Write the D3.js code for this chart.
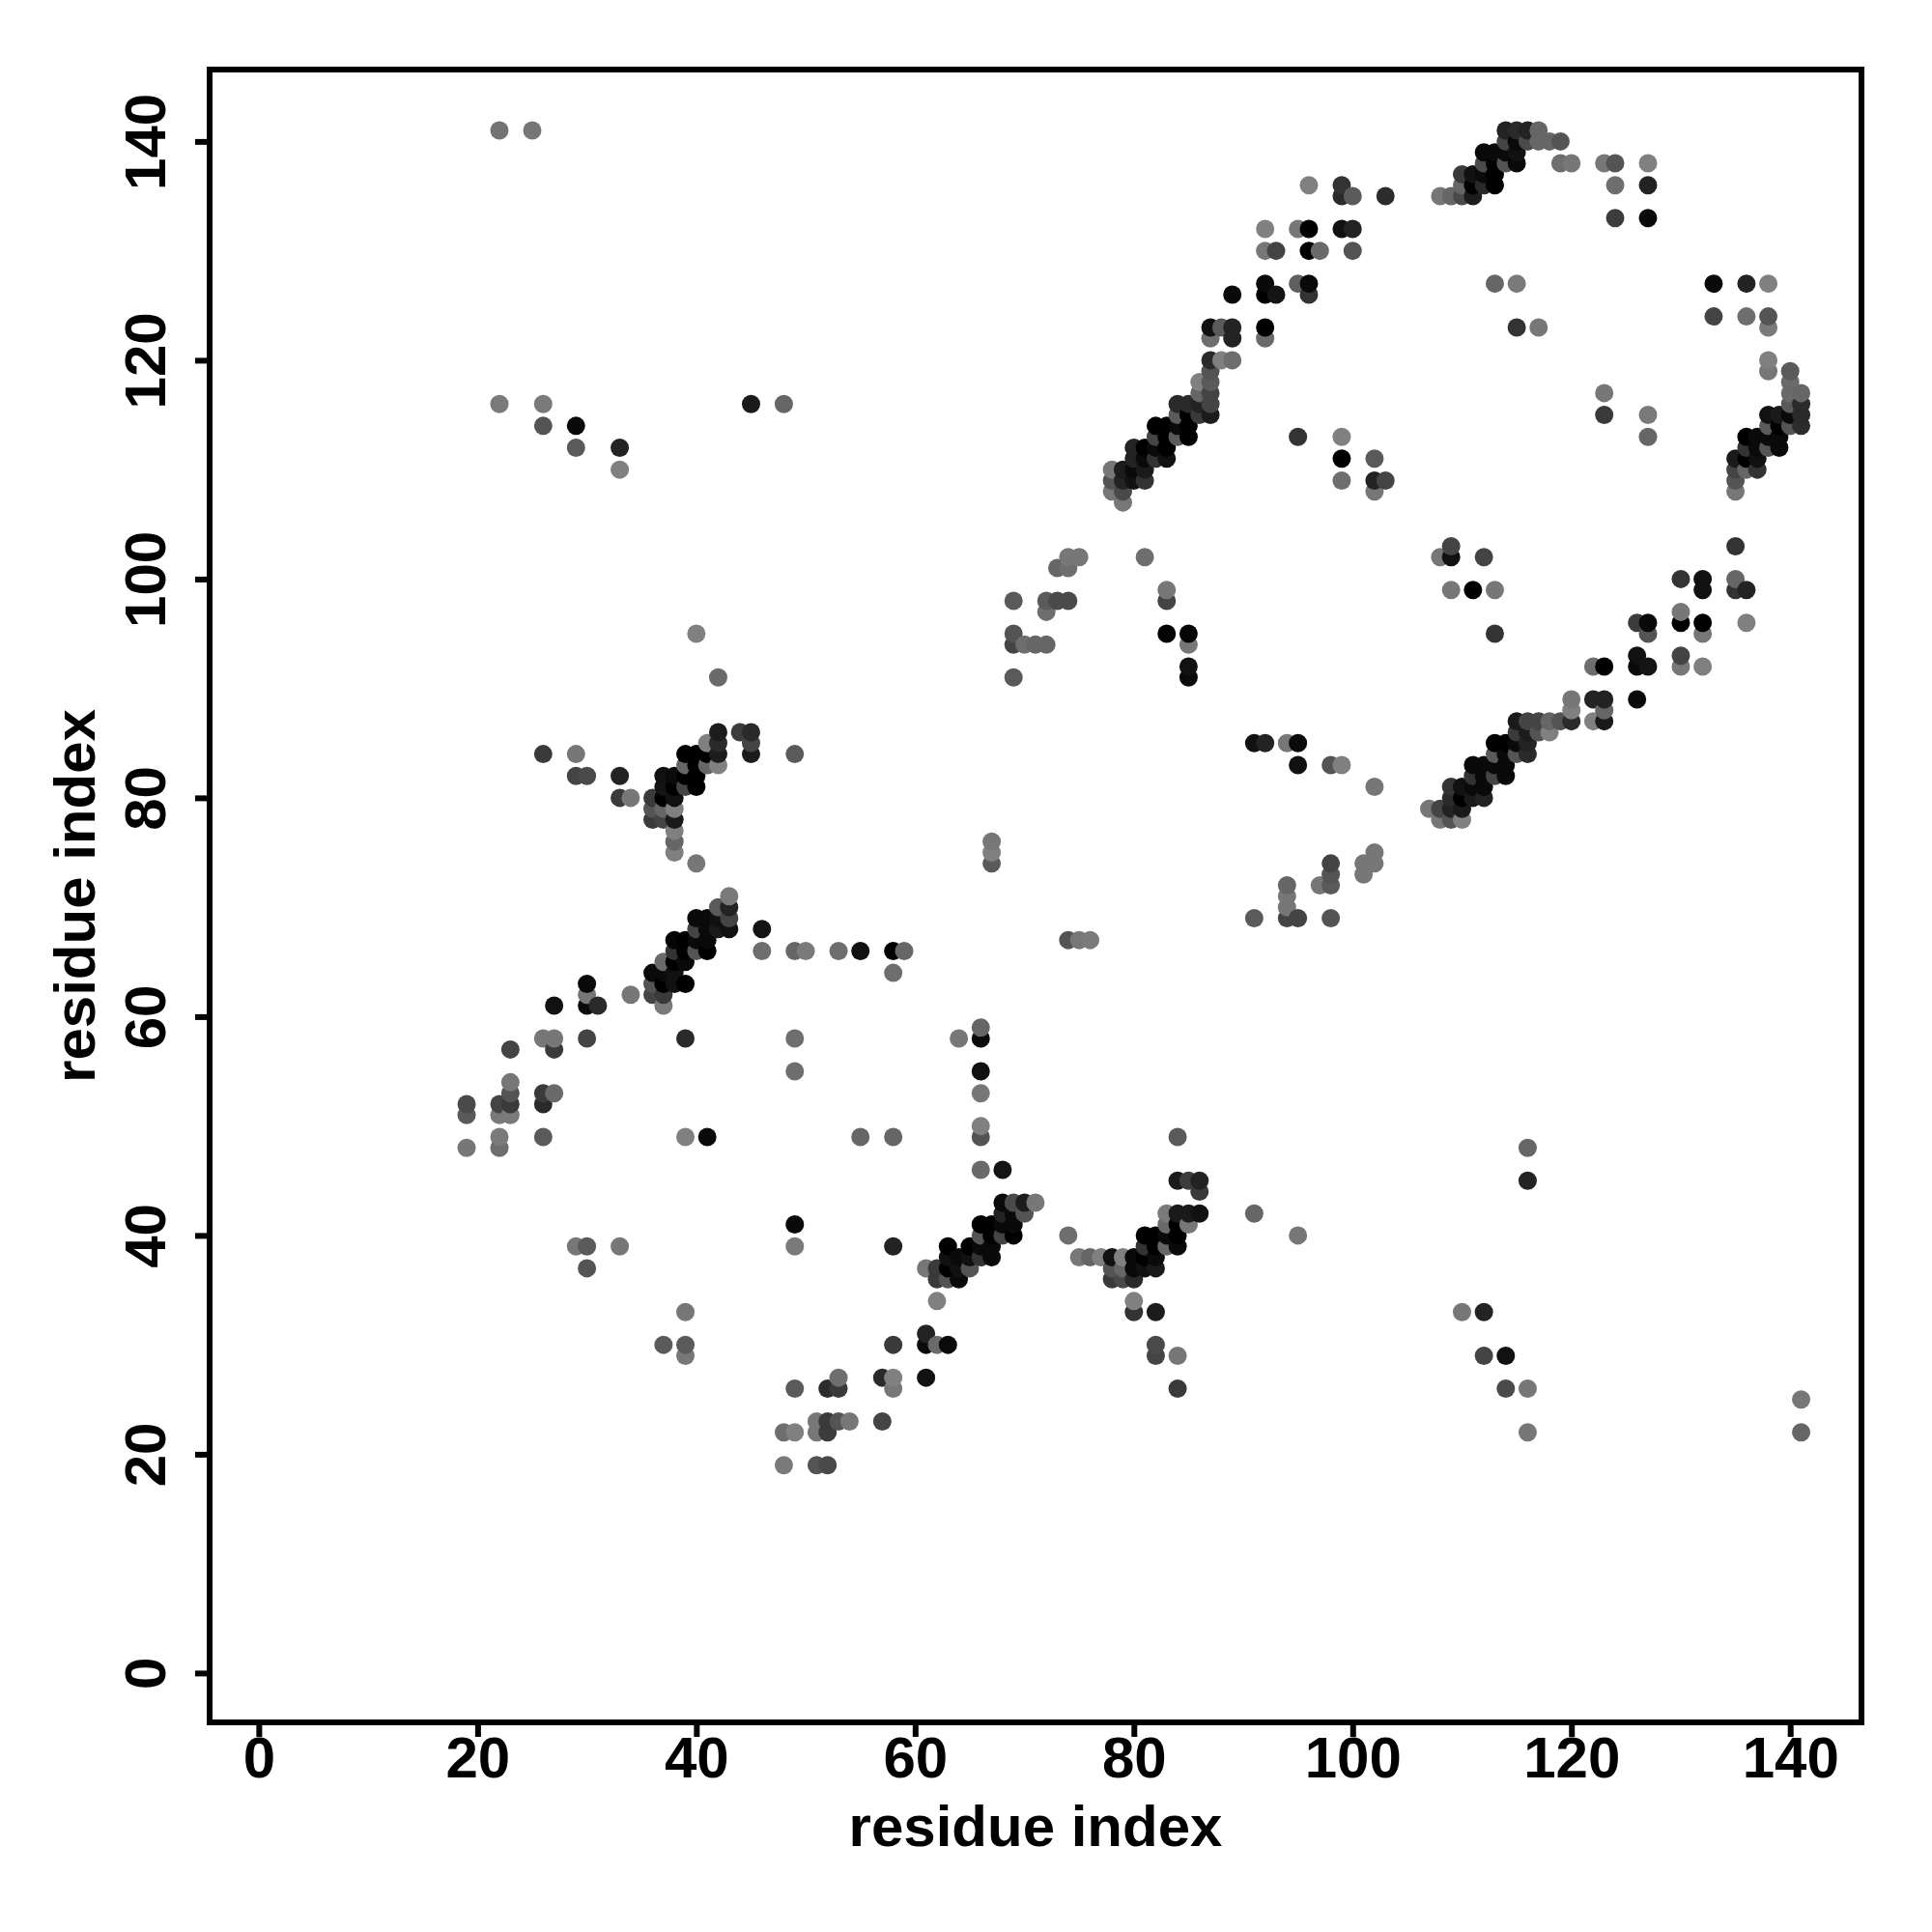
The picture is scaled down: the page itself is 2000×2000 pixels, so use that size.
<!DOCTYPE html>
<html>
<head>
<meta charset="utf-8">
<script src="https://cdn.jsdelivr.net/npm/d3@7/dist/d3.min.js"></script>
<style>html,body{margin:0;background:#fff}svg{display:block}</style>
</head>
<body>
<svg id="chart" width="2000" height="2000"></svg>
<script>
// Each contact: [residue i, residue j, strength 0-100]
const isolatedUpperLeft = [[22,141,10],[25,141,8],[22,116,5],[26,116,5],[26,114,34],[29,114,92],[29,112,30],[33,112,73],[33,110,0],[45,116,80],[48,116,20]];
const sheetA = [[40,95,0],[42,91,17],[26,84,55],[29,84,7],[29,82,47],[30,82,42],[33,82,73],[33,80,55],[34,80,7],
 [42,86,78],[42,85,67],[42,84,78],[42,83,0],[41,85,0],[41,84,100],[41,83,20],[44,86,53],[45,86,67],[45,85,47],[45,84,78],[49,84,30],
 [39,84,100],[40,84,100],[39,83,20],[40,83,100],[40,82,100],[40,81,100],[39,82,100],[39,81,47],
 [37,82,87],[38,82,92],[37,81,84],[38,81,100],[37,80,100],[38,80,87],[36,80,55],[36,79,34],[36,78,55],[37,79,20],[37,78,47],
 [38,79,0],[38,78,80],[38,77,0],[38,76,20],[38,75,0],[40,74,7]];
const helixLower = [[19,52,42],[19,51,30],[19,48,7],[22,52,47],[22,51,5],[22,49,5],[22,48,14],[23,57,47],[23,54,7],[23,53,34],[23,52,55],[23,51,5],
 [26,58,7],[26,53,55],[26,52,67],[26,49,30],[27,58,7],[27,57,55],[27,61,87],[27,53,17],[30,63,92],[30,62,7],[30,61,92],[31,61,67],[30,58,47],[34,62,7],
 [39,58,67],[39,49,0],[41,49,92],[49,58,14],[49,55,14],[49,41,92],[49,39,5],[29,39,7],[30,39,30],[33,39,7],[30,37,34]];
const helixB = [[43,71,5],[42,70,30],[43,70,73],[43,69,47],[43,68,87],[40,69,92],[41,69,92],[42,69,87],[40,68,47],[41,68,92],[42,68,80],
 [46,68,84],[46,66,14],[49,66,20],[50,66,5],[38,67,96],[39,67,100],[40,67,92],[41,67,92],[38,66,60],[39,66,100],[40,66,34],[41,66,100],
 [38,65,100],[39,65,92],[37,65,17],[36,64,92],[37,64,92],[38,64,87],[36,63,34],[37,63,100],[38,63,87],[39,63,100],[36,62,47],[37,62,55],[37,61,5],
 [53,66,14],[55,66,87],[58,66,100],[59,66,20],[58,64,14]];
const middleScatter = [[55,49,20],[74,67,34],[75,67,7],[76,67,5],[67,76,7],[67,75,0],[67,74,30],
 [66,59,20],[66,58,92],[66,55,87],[66,53,7],[66,50,0],[66,49,34],[66,46,17],[68,46,84],[64,58,7],[58,49,20]];
const helixC = [[71,43,7],[70,43,78],[69,43,42],[68,43,92],[70,42,34],[69,42,92],[68,42,73],[69,41,92],[68,41,92],[67,41,100],[66,41,100],
 [69,40,100],[68,40,47],[67,40,100],[66,40,34],[65,39,100],[66,39,92],[67,39,92],[63,39,100],[64,38,92],[65,38,87],[66,38,60],[67,38,92],[63,38,87],
 [62,37,55],[61,37,7],[63,37,100],[64,37,87],[65,37,34],[62,36,55],[63,36,34],[64,36,92],[62,34,0],
 [61,31,73],[61,30,92],[62,30,17],[63,30,92],[58,30,55],[58,39,73],[58,27,0],[58,26,7],[57,27,67],[57,23,47],[61,27,87],[74,40,14]];
const helixD = [[84,49,30],[84,45,80],[85,45,53],[86,45,73],[86,44,55],[84,42,80],[85,42,80],[86,42,87],[83,42,5],[83,41,17],[84,41,100],[85,41,7],[91,42,20],
 [81,40,100],[82,40,100],[83,40,92],[84,40,100],[81,39,60],[82,39,100],[83,39,20],[84,39,92],[80,38,92],[81,38,100],[82,38,92],[79,38,0],[78,38,87],[77,38,0],[76,38,20],[75,38,7],
 [78,37,34],[79,37,20],[80,37,92],[81,37,87],[82,37,80],[78,36,55],[79,36,42],[80,36,67],[80,34,0],[80,33,60],[82,33,78],[82,30,42],[82,29,47],[84,29,7],[84,26,55],[95,40,7]];
const lowerLeftScatter = [[39,33,7],[37,30,30],[39,30,30],[39,29,7],[49,26,30],[52,26,66],[53,26,55],[53,27,14],
 [51,23,7],[52,23,55],[53,23,34],[54,23,7],[51,22,7],[52,22,53],[48,22,14],[49,22,0],[48,19,5],[51,19,34],[52,19,42]];
const centerScatter = [[69,98,30],[72,98,30],[73,98,42],[74,98,42],[72,97,14],[73,101,20],[74,102,7],[75,102,7],[74,101,14],
 [69,95,34],[69,94,47],[70,94,14],[71,94,20],[72,94,20],[69,91,30],[81,102,14],[83,99,7],[83,98,47],[83,95,100],[85,95,96],[85,94,7],[85,92,87],[85,91,92],
 [91,85,87],[92,85,73],[94,85,7],[95,85,92],[95,83,87],[98,83,34],[99,83,0],[102,81,7],
 [91,69,30],[94,72,20],[94,71,7],[94,70,7],[94,69,47],[95,69,47],[97,72,7],[98,74,47],[98,73,34],[98,72,30],[98,69,34],[101,74,7],[101,73,7],[102,75,7],[102,74,7],
 [95,113,60],[99,113,0],[99,111,100],[99,109,14],[102,111,30],[102,109,73],[102,108,7],[103,109,47]];
const helixE = [[87,115,78],[87,116,47],[87,117,47],[87,118,30],[87,119,34],[87,120,67],[88,120,0],[89,120,14],[87,122,14],[87,123,87],[88,123,30],[89,123,73],[89,122,73],
 [92,123,100],[92,122,17],[89,126,92],[92,126,100],[92,127,92],[93,126,84],[95,127,26],[96,127,92],[96,126,60],
 [86,118,0],[86,117,20],[86,116,73],[86,115,55],[84,116,67],[85,116,67],[84,115,30],[85,115,100],[82,114,100],[83,114,100],[85,114,100],[84,114,92],
 [82,113,47],[83,113,100],[84,113,30],[85,113,100],[80,112,73],[81,112,100],[82,112,92],[83,112,100],[80,111,73],[81,111,92],[82,111,60],[83,111,87],
 [79,110,78],[80,110,92],[81,110,80],[78,110,7],[78,109,34],[79,109,73],[80,109,87],[81,109,60],[78,108,7],[79,108,42],[79,107,7],
 [96,136,0],[99,136,60],[99,135,67],[100,135,30],[103,135,66],[92,132,0],[95,132,7],[96,132,100],[99,132,87],[100,132,73],[92,130,7],[93,130,47],[96,130,100],[97,130,17],[100,130,34]];
const helixF = [[108,135,7],[109,135,20],[110,135,42],[111,135,78],[110,136,20],[111,136,100],[112,136,67],[113,136,100],[110,137,55],[111,137,87],[112,137,92],[113,137,100],
 [112,138,42],[113,138,100],[114,138,34],[115,138,92],[112,139,92],[113,139,92],[114,139,92],[115,139,87],[114,140,47],[115,140,92],[116,140,42],[117,140,20],[118,140,20],[119,140,34],
 [114,141,73],[115,141,67],[116,141,73],[117,141,20],[119,138,14],[120,138,7],[123,138,7],[124,138,34],[127,138,0],[124,136,14],[127,136,73],[124,133,53],[127,133,92],
 [113,127,20],[115,127,5],[115,123,60],[117,123,7]];
const helixG = [[133,127,92],[136,127,73],[138,127,0],[133,124,47],[136,124,14],[138,124,34],[138,123,5],[138,120,0],[138,119,7],[140,119,30],[140,118,17],[140,117,17],[141,117,20],
 [140,116,30],[141,116,67],[140,115,92],[141,115,67],[140,114,34],[141,114,66],[138,115,87],[139,115,80],[138,114,30],[139,114,100],[138,113,92],[139,113,92],[138,112,34],[139,112,92],
 [136,113,100],[137,113,92],[136,112,60],[137,112,92],[136,111,100],[137,111,87],[136,110,20],[137,110,60],[135,111,80],[135,110,47],[135,109,34],[135,108,7],
 [123,117,7],[123,115,55],[127,115,5],[127,113,20]];
const helixH = [[113,95,60],[126,96,53],[127,96,92],[127,95,34],[130,97,7],[130,96,100],[132,96,100],[132,95,7],[136,96,0],[122,92,14],[123,92,100],[126,93,87],[126,92,92],[127,92,84],[130,93,47],[130,92,7],[132,92,0],
 [120,89,7],[122,89,73],[123,89,73],[126,89,92],[120,88,0],[123,88,20],[120,87,67],[122,87,0],[123,87,80],
 [115,87,80],[116,87,47],[117,87,47],[118,87,20],[119,87,34],[117,86,34],[118,86,0],[115,86,55],[116,86,78],[113,85,100],[114,85,100],[115,85,92],[116,85,73],
 [113,84,30],[114,84,92],[115,84,34],[116,84,67],[111,83,92],[112,83,92],[113,83,92],[114,83,92],[111,82,60],[112,82,92],[113,82,47],[114,82,92],
 [109,81,60],[110,81,87],[111,81,92],[112,81,92],[109,80,67],[110,80,100],[111,80,80],[112,80,73],[107,79,7],[108,79,47],[109,79,73],[110,79,80],[108,78,7],[109,78,34],[110,78,0],
 [130,100,60],[132,100,87],[132,99,87],[135,103,60],[135,100,20],[135,99,60],[136,99,73]];
const rightScatter = [[109,103,47],[109,102,87],[108,102,7],[112,102,47],[109,99,7],[111,99,100],[113,99,7],
 [110,33,7],[112,33,73],[112,29,47],[114,29,87],[114,26,42],[116,26,7],[116,22,7],[116,48,20],[116,45,73],[141,25,7],[141,22,20]];

const xTickValues = [0,20,40,60,80,100,120,140];
const yTickValues = [0,20,40,60,80,100,120,140];
const xAxisLabel = "residue index";
const yAxisLabel = "residue index";

const contacts = [].concat(isolatedUpperLeft, sheetA, helixLower, helixB, middleScatter, helixC, helixD,
  lowerLeftScatter, centerScatter, helixE, helixF, helixG, helixH, rightScatter);
const ordered = d3.sort(contacts, d => d[0], d => d[1]);

const frame = {left: 217, right: 1927, top: 72, bottom: 1783};
const x = d3.scaleLinear().domain([0,140]).range([267.9,1853.2]);
const y = d3.scaleLinear().domain([0,140]).range([1731.9,146.4]);
const shade = d3.scaleLinear().domain([0,100]).range([128,0]);

const svg = d3.select("#chart");
const font = "'Liberation Sans', Arial, Helvetica, sans-serif";

svg.append("rect").attr("width",2000).attr("height",2000).attr("fill","#fff");

svg.append("g").selectAll("circle").data(ordered).join("circle")
  .attr("cx", d => x(d[0])).attr("cy", d => y(d[1])).attr("r", 9.5)
  .attr("fill", d => { const g = Math.round(shade(d[2])); return `rgb(${g},${g},${g})`; });

svg.append("rect")
  .attr("x",frame.left).attr("y",frame.top)
  .attr("width",frame.right-frame.left).attr("height",frame.bottom-frame.top)
  .attr("fill","none").attr("stroke","#000").attr("stroke-width",6);

const gx = svg.append("g").attr("transform",`translate(0,${frame.bottom})`)
  .call(d3.axisBottom(x).tickValues(xTickValues).tickSize(15).tickPadding(16).tickFormat(d3.format("d")));
const gy = svg.append("g").attr("transform",`translate(${frame.left},0)`)
  .call(d3.axisLeft(y).tickValues(yTickValues).tickSize(15).tickPadding(0).tickFormat(d3.format("d")));
gx.select(".domain").remove(); gy.select(".domain").remove();
svg.selectAll(".tick line").attr("stroke","#000").attr("stroke-width",6);
gx.selectAll("text").attr("font-family",font).attr("font-weight","bold").attr("font-size",60).attr("fill","#000")
  .attr("dy",null).attr("y",57);
gy.selectAll("text").attr("font-family",font).attr("font-weight","bold").attr("font-size",60).attr("fill","#000")
  .attr("x",null).attr("dy",null).attr("text-anchor","middle").attr("transform","translate(-46,0) rotate(-90)");

svg.append("text").text(xAxisLabel).attr("x",(frame.left+frame.right)/2).attr("y",1911)
  .attr("text-anchor","middle").attr("font-family",font).attr("font-weight","bold").attr("font-size",60).attr("fill","#000");
svg.append("text").text(yAxisLabel).attr("text-anchor","middle")
  .attr("transform",`translate(98,${(frame.top+frame.bottom)/2}) rotate(-90)`)
  .attr("font-family",font).attr("font-weight","bold").attr("font-size",60).attr("fill","#000");
</script>
</body>
</html>
